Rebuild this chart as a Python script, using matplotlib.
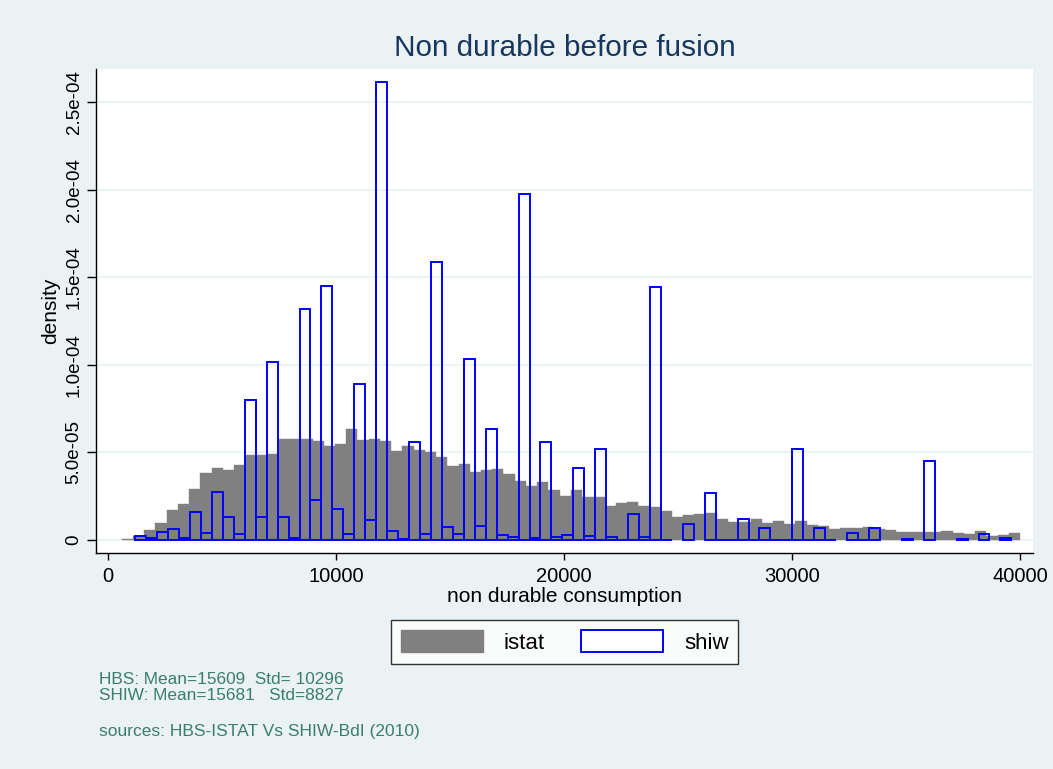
import numpy as np
import matplotlib
matplotlib.use("Agg")
import matplotlib.pyplot as plt
from matplotlib.patches import Patch

plt.rcParams['font.family'] = ['Liberation Sans', 'DejaVu Sans']

# histogram bins (80 each), densities in units of 1e-5
istat_start, istat_width = 600, 492.5
shiw_start, shiw_width = 1197, 480.3

istat_density = [
    0.05, 0.25, 0.58, 1.00, 1.71, 2.06, 2.92, 3.83, 4.13, 4.02,
    4.29, 4.85, 4.88, 4.90, 5.75, 5.77, 5.75, 5.65, 5.37, 5.46,
    6.35, 5.71, 5.75, 5.67, 5.06, 5.35, 5.15, 5.04, 4.75, 4.21,
    4.33, 3.88, 3.98, 4.08, 3.79, 3.37, 3.06, 3.29, 2.87, 2.54,
    2.87, 2.44, 2.44, 1.96, 2.10, 2.19, 1.96, 1.87, 1.67, 1.33,
    1.42, 1.48, 1.54, 1.23, 1.04, 1.06, 1.23, 1.00, 1.10, 0.94,
    1.10, 0.85, 0.81, 0.65, 0.71, 0.71, 0.75, 0.62, 0.58, 0.48,
    0.46, 0.46, 0.48, 0.52, 0.42, 0.37, 0.52, 0.23, 0.29, 0.42,
]
shiw_density = [
    0.25, 0.13, 0.46, 0.63, 0.10, 1.63, 0.40, 2.73, 1.29, 0.35,
    7.97, 1.33, 10.18, 1.33, 0.12, 13.17, 2.29, 14.48, 1.75, 0.33,
    8.89, 1.13, 26.12, 0.54, 0.08, 5.62, 0.37, 15.85, 0.75, 0.37,
    10.31, 0.79, 6.35, 0.27, 0.15, 19.75, 0.12, 5.60, 0.15, 0.27,
    4.12, 0.21, 5.17, 0.19, 0.02, 1.48, 0.19, 14.44, 0.02, 0.00,
    0.93, 0.00, 2.70, 0.02, 0.02, 1.19, 0.02, 0.67, 0.02, 0.02,
    5.21, 0.02, 0.67, 0.02, 0.00, 0.38, 0.02, 0.67, 0.00, 0.00,
    0.08, 0.00, 4.52, 0.00, 0.00, 0.08, 0.00, 0.35, 0.00, 0.12,
]
yticks = [0, 5e-5, 1e-4, 1.5e-4, 2e-4, 2.5e-4]
ytick_labels = ['0', '5.0e-05', '1.0e-04', '1.5e-04', '2.0e-04', '2.5e-04']
xticks = [0, 10000, 20000, 30000, 40000]

bg = '#EAF2F3'
W, H = 1053, 769
fig = plt.figure(figsize=(W / 100, H / 100), dpi=100, facecolor=bg)
ax = fig.add_axes([95.7 / W, 1 - 552.7 / H, (1033.3 - 95.7) / W, (552.7 - 69) / H])
ax.set_facecolor('white')

istat_y = np.array(istat_density) * 1e-5
istat_x = istat_start + istat_width * np.arange(len(istat_y))
ax.bar(istat_x, istat_y, width=istat_width, align='edge', color='#808080',
       edgecolor='#808080', linewidth=0.3, zorder=2)

shiw_y = np.array(shiw_density) * 1e-5
shiw_x = shiw_start + shiw_width * np.arange(len(shiw_y))
keep = shiw_y > 0
ax.bar(shiw_x[keep], shiw_y[keep], width=shiw_width, align='edge', fill=False,
       edgecolor='#0000FF', linewidth=1.4, zorder=3)

ax.set_xlim(-539, 40583)
ax.set_ylim(-7.2e-6, 2.688e-4)
ax.set_yticks(yticks)
ax.set_yticklabels(ytick_labels, rotation=90, va='center', fontsize=13.5)
ax.set_xticks(xticks)
ax.set_xticklabels([str(t) for t in xticks], fontsize=14.5)
ax.tick_params(axis='y', length=6.5, width=1, pad=3)
ax.tick_params(axis='x', length=5, width=1, pad=5)
ax.yaxis.grid(True, color=bg, linewidth=1.3)
ax.set_axisbelow(True)
for s in ['top', 'right']:
    ax.spines[s].set_visible(False)
for s in ['left', 'bottom']:
    ax.spines[s].set_linewidth(1)

ax.set_xlabel('non durable consumption', fontsize=15, labelpad=1)
ax.set_ylabel('density', fontsize=15, labelpad=4)
fig.text(565 / W, 1 - 48 / H, 'Non durable before fusion', fontsize=21.4,
         color='#1A365C', ha='center', va='center')

handles = [Patch(facecolor='#808080', edgecolor='#808080'),
           Patch(facecolor='white', edgecolor='#0000FF', linewidth=1.4)]
leg = fig.legend(handles, ['istat', 'shiw'], loc='center', ncol=2,
                 bbox_to_anchor=(564.5 / W, 1 - 642 / H), fontsize=16,
                 handlelength=3.7, handleheight=1.1, handletextpad=0.95,
                 columnspacing=1.6, frameon=True, fancybox=False,
                 borderpad=0.45, borderaxespad=0)
leg.get_frame().set_edgecolor('black')
leg.get_frame().set_linewidth(1)

note_c = '#3C7D72'
fig.text(99 / W, 1 - 680 / H, 'HBS: Mean=15609  Std= 10296', fontsize=12.4,
         color=note_c, va='center')
fig.text(99 / W, 1 - 696 / H, 'SHIW: Mean=15681   Std=8827', fontsize=12.4,
         color=note_c, va='center')
fig.text(99 / W, 1 - 731.5 / H, 'sources: HBS-ISTAT Vs SHIW-BdI (2010)', fontsize=12.5,
         color=note_c, va='center')

fig.savefig('out.png', dpi=100, facecolor=bg)
